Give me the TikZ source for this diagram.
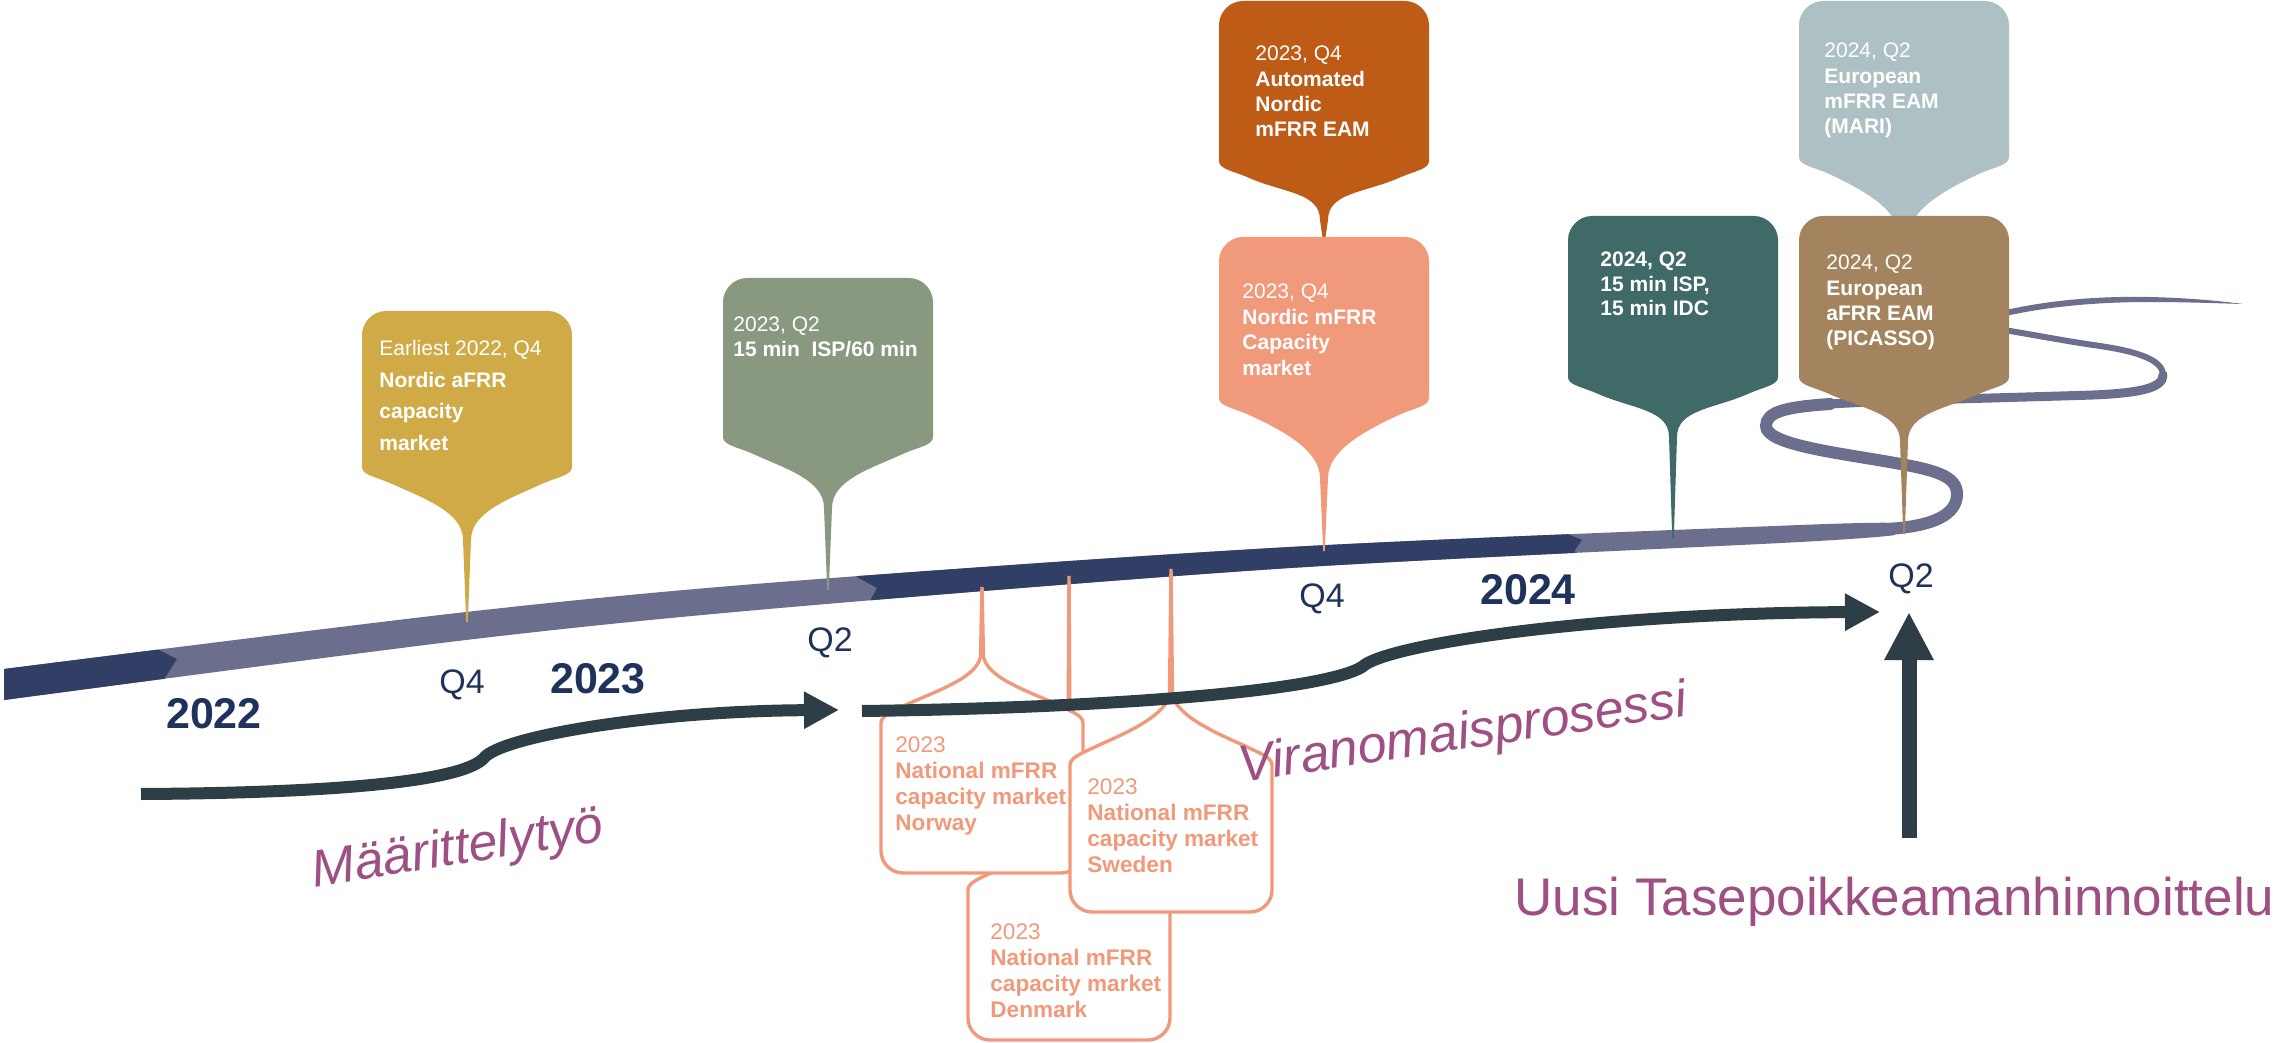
\documentclass[tikz,border=0pt]{standalone}
\usepackage{fontspec}
\setmainfont{Liberation Sans}
\usetikzlibrary{arrows.meta}
\definecolor{roadnavy}{HTML}{313F67}
\definecolor{roadgrey}{HTML}{6C6E8D}
\definecolor{flowdark}{HTML}{2D3E46}
\definecolor{phasepurple}{HTML}{9E5085}
\definecolor{yearnavy}{HTML}{1E325C}
\definecolor{pingold}{HTML}{CFAA47}
\definecolor{pinsage}{HTML}{899980}
\definecolor{pinrust}{HTML}{BD5B17}
\definecolor{pinsalmon}{HTML}{F19A7B}
\definecolor{pinteal}{HTML}{406A68}
\definecolor{pinmist}{HTML}{ADC1C4}
\definecolor{pinbrown}{HTML}{A3845E}

\newcommand{\droppin}[6]{%
  \fill[#6] ({#1-105},{#2+24}) .. controls ({#1-105},{#2+11}) and ({#1-94},#2) .. ({#1-81},#2)
    -- ({#1+81},#2) .. controls ({#1+94},#2) and ({#1+105},{#2+11}) .. ({#1+105},{#2+24})
    -- ({#1+105},#3) .. controls ({#1+105},{#3+8}) and ({#1+91},{#3+10}) .. ({#1+77},{#3+16})
    .. controls ({#1+42},{#3+32}) and ({#1+4},{#4-28}) .. ({#1+4},#4)
    -- ({#1+0.8},#5) -- ({#1-0.8},#5) -- ({#1-4},#4)
    .. controls ({#1-4},{#4-28}) and ({#1-42},{#3+32}) .. ({#1-77},{#3+16})
    .. controls ({#1-91},{#3+10}) and ({#1-105},{#3+8}) .. ({#1-105},#3) -- cycle;}

\newcommand{\hangpin}[5]{%
  \filldraw[hang] ({#1-101},{#5-22}) -- ({#1-101},#4)
    .. controls ({#1-101},{#4-8}) and ({#1-88},{#4-12}) .. ({#1-72},{#4-20})
    .. controls ({#1-40},{#4-34}) and ({#1-6},{#3+20}) .. ({#1-1.5},#3)
    -- (#1,#2) -- ({#1+1.5},#3)
    .. controls ({#1+6},{#3+20}) and ({#1+40},{#4-34}) .. ({#1+72},{#4-20})
    .. controls ({#1+88},{#4-12}) and ({#1+101},{#4-8}) .. ({#1+101},#4)
    -- ({#1+101},{#5-22}) .. controls ({#1+101},{#5-10}) and ({#1+91},#5) .. ({#1+79},#5)
    -- ({#1-79},#5) .. controls ({#1-91},#5) and ({#1-101},{#5-10}) .. ({#1-101},{#5-22}) -- cycle;}

\begin{document}
\begin{tikzpicture}[x=0.5pt, y=-0.5pt,
  note/.style={anchor=base west, align=left, inner sep=0pt, text=white, font=\fontsize{10.5}{12.7}\selectfont},
  hang/.style={draw=pinsalmon, line width=1.7pt, fill=white},
  hangnote/.style={anchor=base west, align=left, inner sep=0pt, text=pinsalmon, font=\fontsize{11.3}{12.85}\selectfont},
  flow/.style={draw=flowdark, line width=6pt, -{Triangle[length=17.5pt, width=17.5pt]}},
  curl/.style={draw=roadgrey, line cap=round},
  year/.style={anchor=base, inner sep=0pt, text=yearnavy, font=\fontsize{21.5}{24}\selectfont\bfseries},
  quarter/.style={anchor=base, inner sep=0pt, text=yearnavy, font=\fontsize{17}{20}\selectfont},
  phase/.style={anchor=base, inner sep=0pt, text=phasepurple, font=\fontsize{26}{30}\selectfont\itshape}
]
\path[use as bounding box, fill=white] (0,0) rectangle (2282,1043);

\begin{scope}
\clip plot[smooth] coordinates {(4,669) (466,612) (780,582) (1290,547) (1800,525) (1895,523)}
  -- plot[smooth] coordinates {(1895,535) (1800,542) (1290,568) (780,608) (466,640) (4,700)} -- cycle;
\fill[roadgrey] (0,500) rectangle (1900,720);
\fill[roadnavy] (0,600) -- (157,600) -- (157,649) -- (177,659) -- (165,678) -- (165,720) -- (0,720) -- cycle;
\fill[roadnavy] (857,500) -- (1565,500) -- (1565,533) -- (1582,540) -- (1575,550) -- (1575,640)
  -- (870,640) -- (870,601) -- (877,588) -- (857,577) -- cycle;
\end{scope}

\draw[curl, line width=6pt] (1888,529) .. controls (1935,526) and (1957,514) .. (1957,494)
  .. controls (1957,476) and (1935,470) .. (1895,463) .. controls (1840,453) and (1766,445) .. (1766,426)
  .. controls (1766,412) and (1785,407) .. (1830,404);
\draw[curl, line width=4.5pt] (1830,404) .. controls (1900,400) and (2000,398) .. (2093,395)
  .. controls (2140,393) and (2163,388) .. (2163,375);
\draw[curl, line width=3pt] (2163,375) .. controls (2163,358) and (2130,350) .. (2093,345)
  .. controls (2060,340) and (2040,336) .. (2010,331) .. controls (1985,327) and (1985,318) .. (2006,313);
\fill[roadgrey] (2006,310) .. controls (2050,300) and (2100,296) .. (2150,297) .. controls (2190,298) and (2220,301) .. (2243,304)
  .. controls (2210,303) and (2180,302) .. (2150,302) .. controls (2100,302) and (2050,306) .. (2006,316) -- cycle;

\droppin{467}{311}{467}{540}{622}{pingold}
\droppin{828}{278}{437}{508}{590}{pinsage}
\droppin{1324}{1}{161}{220}{242}{pinrust}
\droppin{1324}{237}{398}{478}{551}{pinsalmon}
\droppin{1673}{216}{377}{437}{538}{pinteal}
\droppin{1904}{1}{157}{238}{242}{pinmist}
\droppin{1904}{216}{377}{441}{534}{pinbrown}

\hangpin{1069}{576}{820}{890}{1040}
\hangpin{982}{587}{657}{723}{873}
\hangpin{1171}{569}{695}{765}{912}

\node[note, font=\fontsize{10.5}{15.7}\selectfont] (afrr) at (379,450) {Earliest 2022, Q4\\\textbf{Nordic aFRR}\\\textbf{capacity}\\\textbf{market}};
\node[note] (isp) at (733,357) {2023, Q2\\\textbf{15 min\ \ ISP/60 min}};
\node[note] (eam) at (1255,137) {2023, Q4\\\textbf{Automated}\\\textbf{Nordic}\\\textbf{mFRR EAM}};
\node[note] (capacity) at (1242,375) {2023, Q4\\\textbf{Nordic mFRR}\\\textbf{Capacity}\\\textbf{market}};
\node[note, font=\fontsize{10.5}{12.3}\selectfont] (idc) at (1600,316) {\textbf{2024, Q2}\\\textbf{15 min ISP,}\\\textbf{15 min IDC}};
\node[note] (mari) at (1824,134) {2024, Q2\\\textbf{European}\\\textbf{mFRR EAM}\\\textbf{(MARI)}};
\node[note] (picasso) at (1826,346) {2024, Q2\\\textbf{European}\\\textbf{aFRR EAM}\\\textbf{(PICASSO)}};

\node[hangnote] (norway) at (895,830) {2023\\\textbf{National mFRR}\\\textbf{capacity market}\\\textbf{Norway}};
\node[hangnote] (sweden) at (1087,872) {2023\\\textbf{National mFRR}\\\textbf{capacity market}\\\textbf{Sweden}};
\node[hangnote] (denmark) at (990,1017) {2023\\\textbf{National mFRR}\\\textbf{capacity market}\\\textbf{Denmark}};

\coordinate (spec-start) at (141,794);
\coordinate (spec-end) at (839,710);
\coordinate (auth-start) at (862,711);
\coordinate (auth-end) at (1880,612);
\coordinate (price-start) at (1909,838);
\coordinate (price-end) at (1909,612);

\draw[flow] (spec-start) .. controls (330,793) and (462,782) .. (484,758) .. controls (500,737) and (650,711) .. (spec-end);
\draw[flow] (auth-start) .. controls (1100,708) and (1320,692) .. (1362,667) .. controls (1385,644) and (1600,613) .. (auth-end);
\draw[flow, line width=7.5pt, -{Triangle[length=24pt, width=23pt]}] (price-start) -- (price-end);

\node[year] (y2022) at (214,728) {2022};
\node[year] (y2023) at (598,693) {2023};
\node[year] (y2024) at (1528,604) {2024};
\node[quarter] (q4a) at (462,693) {Q4};
\node[quarter] (q2a) at (830,651) {Q2};
\node[quarter] (q4b) at (1322,607) {Q4};
\node[quarter] (q2b) at (1911,587) {Q2};

\node[phase, rotate=9] (spec) at (460,864) {Määrittelytyö};
\node[phase, rotate=8.5] (authority) at (1465,749) {Viranomaisprosessi};
\node[anchor=base west, inner sep=0pt, text=phasepurple, font=\fontsize{26.5}{30}\selectfont] (pricing) at (1514,915) {Uusi Tasepoikkeamanhinnoittelu};
\end{tikzpicture}
\end{document}
